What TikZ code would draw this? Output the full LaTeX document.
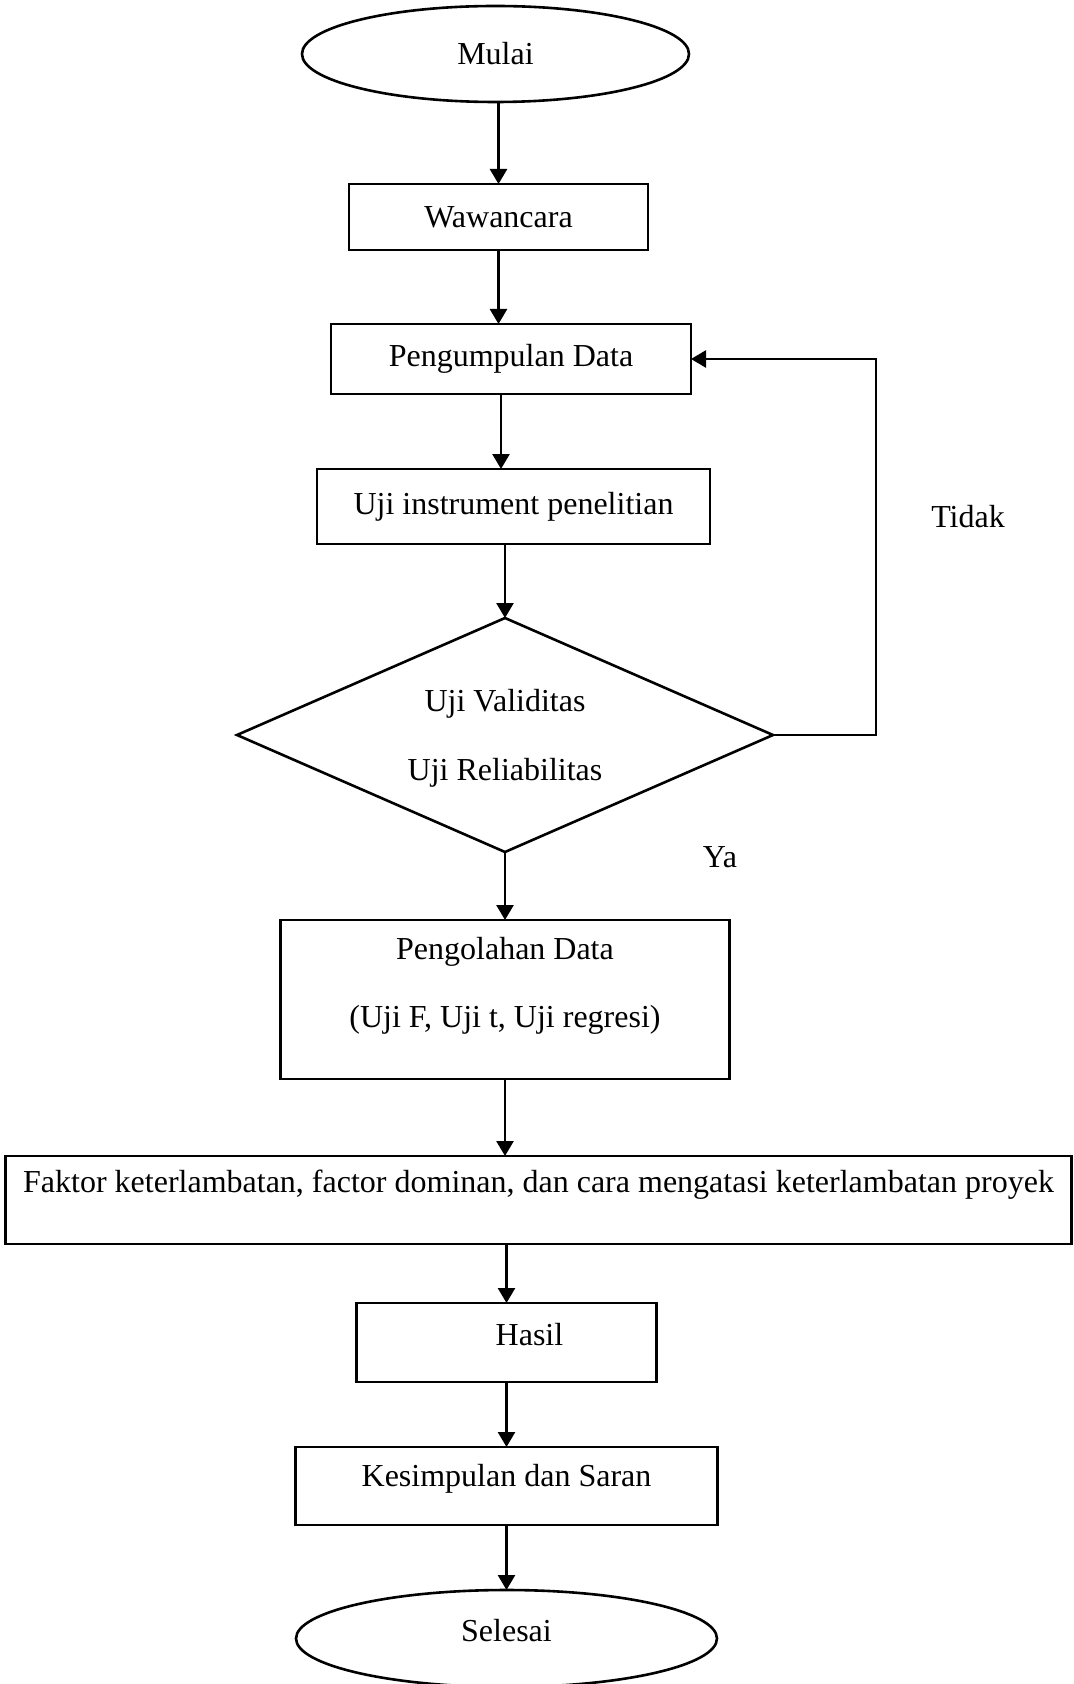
\documentclass[tikz,border=0pt]{standalone}
\usepackage{fontspec}
\setmainfont{Liberation Serif}
\usetikzlibrary{arrows.meta,positioning,shapes.geometric}

\begin{document}
\begin{tikzpicture}[
    x=0.5pt, y=-0.5pt,
    >={Triangle[length=7.5pt,width=8.5pt]},
    % one unit is one pixel of the scanned chart
    box/.style={rectangle, draw=black, line width=1.3pt, outer sep=0pt, align=center, font=\fontsize{16pt}{19.2pt}\selectfont},
    term/.style={ellipse, draw=black, line width=1.3pt, outer sep=0pt, inner sep=0pt, font=\fontsize{16pt}{19.2pt}\selectfont},
    decide/.style={diamond, aspect=2.3, draw=black, line width=1.3pt, outer sep=0pt, inner sep=0pt, align=center, font=\fontsize{16pt}{19.2pt}\selectfont},
    lbl/.style={font=\fontsize{16pt}{19.2pt}\selectfont},
    flow/.style={->, line width=1.3pt}
  ]
  \useasboundingbox (0,0) rectangle (1074,1684);

  \node[term, minimum width=193.5pt, minimum height=48pt] (mulai) at (495.5,54) {Mulai};
  \node[box, minimum width=149.5pt, minimum height=33pt, below=41pt of mulai, xshift=1.5pt] (waw) {Wawancara};
  \node[box, minimum width=180pt, minimum height=35pt, below=37pt of waw, xshift=6.25pt] (kumpul) {Pengumpulan Data};
  \node[box, minimum width=196.5pt, minimum height=37.5pt, below=37.5pt of kumpul, xshift=1.25pt] (uji) {Uji instrument penelitian};
  \node[decide, minimum width=268pt, minimum height=117pt, below=37pt of uji, xshift=-4.25pt] (valid) {\rule{0pt}{14.1pt}Uji Validitas\\[15.3pt]Uji Reliabilitas};
  \node[box, minimum width=224.5pt, minimum height=79.5pt, below=34pt of valid] (olah) {Pengolahan Data\\[14.8pt](Uji F, Uji t, Uji regresi)\rule[-17.4pt]{0pt}{17.4pt}};
  \node[box, minimum width=533pt, minimum height=44pt, text depth=18.9pt, below=38.5pt of olah, xshift=16.75pt] (faktor) {Faktor keterlambatan, factor dominan, dan cara mengatasi keterlambatan proyek};
  \node[box, minimum width=150pt, minimum height=39.5pt, text depth=8.4pt, below=29.5pt of faktor, xshift=-16pt] (hasil) {\hspace*{23pt}Hasil};
  \node[box, minimum width=211pt, minimum height=39pt, text depth=10.4pt, below=32.5pt of hasil] (simpul) {Kesimpulan dan Saran};
  \node[term, minimum width=210.5pt, minimum height=48.5pt, text depth=7.9pt, below=32.5pt of simpul] (selesai) {Selesai};

  \node[lbl, anchor=base] (tidak) at (968,527) {Tidak};
  \node[lbl, anchor=base] (ya) at (720,867) {Ya};

  \coordinate (kumpulout) at ([xshift=-5pt]kumpul.south);
  \draw[flow] (mulai.south -| waw.north) -- (waw.north);
  \draw[flow] (waw.south) -- (waw.south |- kumpul.north);
  \draw[flow] (kumpulout) -- (kumpulout |- uji.north);
  \draw[flow] (valid.north |- uji.south) -- (valid.north);
  \draw[flow] (valid.south) -- (valid.south |- olah.north);
  \draw[flow] (olah.south) -- (olah.south |- faktor.north);
  \draw[flow] (faktor.south -| hasil.north) -- (hasil.north);
  \draw[flow] (hasil.south) -- (hasil.south |- simpul.north);
  \draw[flow] (simpul.south) -- (simpul.south |- selesai.north);
  \draw[flow] (valid.east) -- ++(103,0) |- (kumpul.east);
\end{tikzpicture}
\end{document}
